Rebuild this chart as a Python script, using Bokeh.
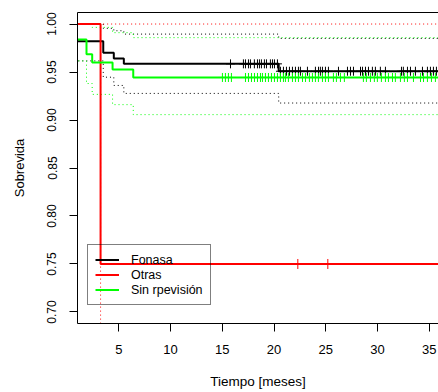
import numpy as np
from bokeh.plotting import figure
from bokeh.models import (FixedTicker, LinearAxis, Legend, LegendItem, Range1d,
                          PrintfTickFormatter)
from bokeh.embed import file_html
from bokeh.resources import INLINE

# ---- data ----
fonasa_time = [0.0, 0.5, 3.49, 4.51, 5.48, 20.45, 36.0]
fonasa_surv = [1.0, 0.982, 0.970, 0.964, 0.9585, 0.9508, 0.9508]
fonasa_upper = [1.0, 1.0, 0.9955, 0.993, 0.9895, 0.985, 0.985]
fonasa_lower = [1.0, 0.9616, 0.9446, 0.936, 0.9277, 0.9177, 0.9177]
fonasa_censor = [15.79, 17.04, 17.24, 17.53, 17.72, 18.1, 18.4, 18.59, 18.78, 19.07,
                 19.27, 19.65, 19.85, 20.04, 20.33,
                 20.62, 20.91, 21.2, 21.49, 21.78, 22.07, 22.36, 22.55, 23.23, 24.0,
                 24.3, 24.48, 24.68, 24.97, 25.26, 26.23, 27.1, 27.39, 27.68, 28.36,
                 28.55, 28.84, 29.13, 29.51, 29.8, 30.28, 30.77, 32.32, 32.5, 32.9,
                 33.19, 33.67, 34.35, 34.83, 35.12, 35.41, 35.7]

otras_time = [0.0, 3.23, 36.0]
otras_surv = [1.0, 0.75, 0.75]
otras_upper = [1.0, 1.0, 1.0]
otras_lower = [1.0, 0.40, 0.40]
otras_censor = [22.3, 25.2]

sinprev_time = [0.0, 0.5, 1.87, 2.42, 4.39, 6.39, 36.0]
sinprev_surv = [1.0, 0.984, 0.9685, 0.960, 0.9526, 0.9443, 0.9443]
sinprev_upper = [1.0, 1.0, 1.0, 0.9965, 0.991, 0.9858, 0.9858]
sinprev_lower = [1.0, 0.9616, 0.938, 0.9267, 0.916, 0.9056, 0.9056]
sinprev_censor = [15.01, 15.3, 15.59, 15.88, 17.24, 17.53, 17.82, 18.11, 18.4, 18.69,
                  18.88, 19.17, 19.46, 19.75, 20.04, 20.33, 20.62, 20.91, 21.1, 21.39,
                  21.78, 22.07, 22.36, 22.75, 23.04, 23.42, 23.71, 24.0, 24.29, 24.68,
                  24.97, 25.26, 25.74, 26.03, 26.42, 26.8, 28.64, 28.93, 29.32, 29.7,
                  29.99, 30.38, 30.77, 31.06, 31.45, 31.73, 32.22, 32.6, 32.9, 33.48,
                  34.16, 34.45, 34.83, 35.22, 35.6]

labels = ["Fonasa", "Otras", "Sin rpevisión"]
x_ticks = [5, 10, 15, 20, 25, 30, 35]
y_ticks = [0.70, 0.75, 0.80, 0.85, 0.90, 0.95, 1.00]

FONT = "Liberation Sans"

p = figure(width=438, height=392, x_range=Range1d(1.0, 35.9), y_range=Range1d(0.688, 1.012),
           output_backend="svg", toolbar_location=None,
           min_border_left=77, min_border_right=0, min_border_top=12, min_border_bottom=69)
p.xgrid.visible = False
p.ygrid.visible = False
p.outline_line_color = None
p.background_fill_color = "white"
p.border_fill_color = "white"

xa = p.xaxis[0]
xa.ticker = FixedTicker(ticks=x_ticks)
xa.major_tick_out = 8
xa.major_tick_in = 0
xa.minor_tick_out = 0
xa.minor_tick_in = 0
xa.axis_line_color = "black"
xa.major_tick_line_color = "black"
xa.major_label_text_font = FONT
xa.major_label_text_font_size = "13px"
xa.major_label_text_color = "black"
xa.major_label_standoff = 13
xa.axis_label = "Tiempo [meses]"
xa.axis_label_text_font = FONT
xa.axis_label_text_font_size = "13.5px"
xa.axis_label_text_font_style = "normal"
xa.axis_label_text_color = "black"
xa.axis_label_standoff = 17

ya = p.yaxis[0]
ya.ticker = FixedTicker(ticks=y_ticks)
ya.formatter = PrintfTickFormatter(format="%.2f")
ya.major_label_orientation = "vertical"
ya.major_tick_out = 8
ya.major_tick_in = 0
ya.minor_tick_out = 0
ya.minor_tick_in = 0
ya.axis_line_color = "black"
ya.major_tick_line_color = "black"
ya.major_label_text_font = FONT
ya.major_label_text_font_size = "12px"
ya.major_label_text_color = "black"
ya.major_label_standoff = 13
ya.axis_label = "Sobrevida"
ya.axis_label_text_font = FONT
ya.axis_label_text_font_size = "13px"
ya.axis_label_text_font_style = "normal"
ya.axis_label_text_color = "black"
ya.axis_label_standoff = 18

top = LinearAxis(ticker=FixedTicker(ticks=[]), major_label_text_font_size="0px",
                 major_tick_out=0, major_tick_in=0, minor_tick_out=0, minor_tick_in=0,
                 major_label_standoff=0, axis_line_color="black")
p.add_layout(top, "above")

def surv_at(times, surv, t):
    idx = np.searchsorted(np.array(times), np.array(t), side="right") - 1
    return list(np.array(surv)[idx])

groups = [
    (fonasa_time, fonasa_surv, fonasa_upper, fonasa_lower, fonasa_censor, "black"),
    (otras_time, otras_surv, otras_upper, otras_lower, otras_censor, "#FF0000"),
    (sinprev_time, sinprev_surv, sinprev_upper, sinprev_lower, sinprev_censor, "#00FF00"),
]

main_renderers = []
for t, s, up, lo, cens, col in groups:
    p.step(t, up, mode="after", line_color=col, line_width=1, line_dash="1 3")
    p.step(t, lo, mode="after", line_color=col, line_width=1, line_dash="1 3")
for t, s, up, lo, cens, col in groups:
    r = p.step(t, s, mode="after", line_color=col, line_width=2)
    main_renderers.append(r)
    size = 10 if col == "#FF0000" else 9
    p.scatter(cens, surv_at(t, s, cens), marker="cross", size=size,
              line_color=col, line_width=1)

legend = Legend(items=[LegendItem(label=lab, renderers=[r]) for lab, r in zip(labels, main_renderers)],
                location=(10, 18), border_line_color="black", border_line_width=1,
                background_fill_alpha=0, padding=7, spacing=0, margin=0,
                label_height=15, glyph_height=15, glyph_width=24, label_standoff=12,
                label_text_font=FONT, label_text_font_size="12.5px", label_text_color="black")
p.add_layout(legend)

open("out.html", "w").write(file_html(p, INLINE))
